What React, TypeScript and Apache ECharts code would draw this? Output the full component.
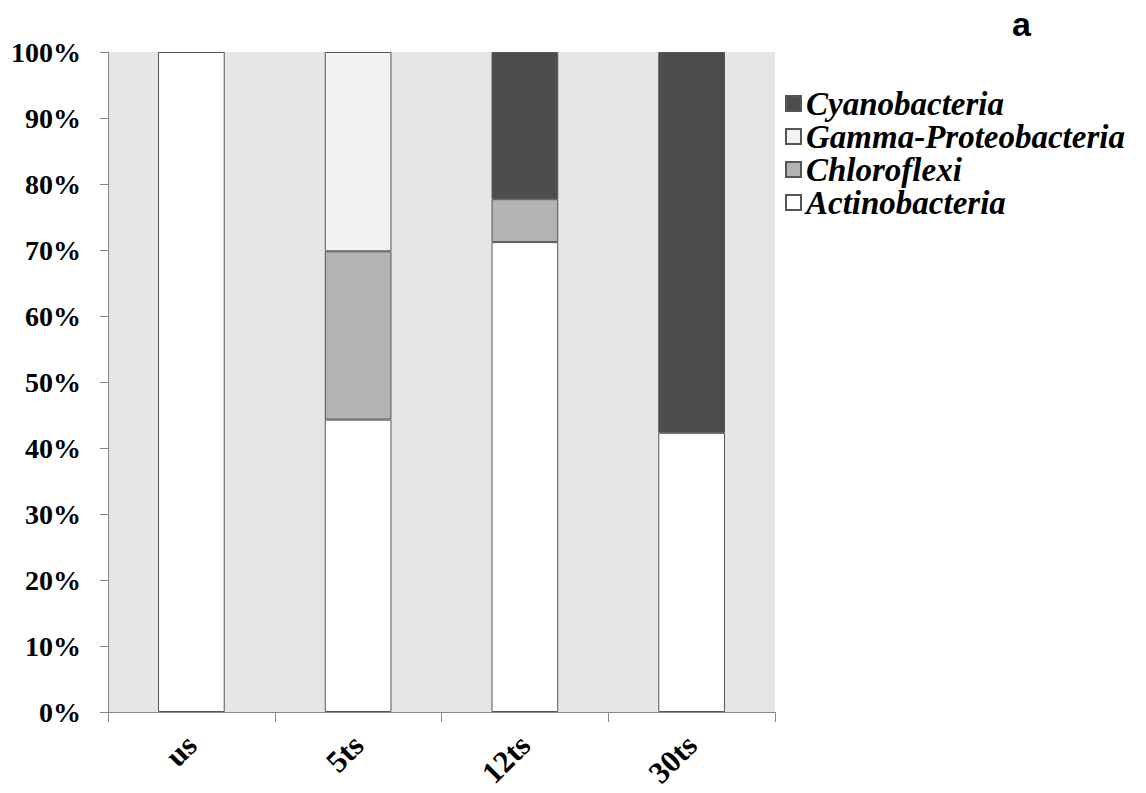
import React, { useEffect, useRef } from "react";
import * as echarts from "echarts";

const categories = ["us", "5ts", "12ts", "30ts"];
const actinobacteria = [100, 44.3, 71.2, 42.3];
const chloroflexi = [null, 25.5, 6.5, null];
const gammaProteobacteria = [null, 30.2, null, null];
const cyanobacteria = [null, null, 22.3, 57.7];
const legendOrder = ["Cyanobacteria", "Gamma-Proteobacteria", "Chloroflexi", "Actinobacteria"];

const serif = "Liberation Serif";

export default function App() {
  const ref = useRef<HTMLDivElement>(null);
  useEffect(() => {
    const chart = echarts.init(ref.current!, null, { renderer: "svg" });
    const mk = (name: string, data: (number | null)[], color: string) => ({
      name,
      type: "bar",
      stack: "total",
      data,
      barWidth: "40%",
      itemStyle: { color, borderColor: "#555", borderWidth: 1 },
    });
    chart.setOption({
      animation: false,
      backgroundColor: "#ffffff",
      title: {
        text: "a",
        left: 1007,
        top: 2,
        textStyle: { fontFamily: "Liberation Sans", fontWeight: "bold", fontSize: 34, color: "#000" },
      },
      grid: {
        left: 108,
        right: 371,
        top: 52,
        bottom: 81,
        show: true,
        backgroundColor: "#e6e6e6",
        borderWidth: 0,
      },
      legend: {
        data: legendOrder,
        orient: "vertical",
        left: 780,
        top: 82,
        itemWidth: 15,
        itemHeight: 15,
        itemGap: 0,
        icon: "rect",
        textStyle: {
          fontFamily: serif,
          fontStyle: "italic",
          fontWeight: "bold",
          fontSize: 33,
          color: "#000",
          lineHeight: 33,
          padding: [0, 0, 0, 0],
        },
      },
      xAxis: {
        type: "category",
        data: categories,
        axisLine: { show: true, lineStyle: { color: "#888", width: 1 } },
        axisTick: { show: true, length: 10, lineStyle: { color: "#888" } },
        axisLabel: {
          rotate: 45,
          margin: 28,
          fontFamily: serif,
          fontWeight: "bold",
          fontSize: 31,
          color: "#000",
        },
      },
      yAxis: {
        type: "value",
        min: 0,
        max: 100,
        interval: 10,
        splitLine: { show: false },
        axisLine: { show: true, lineStyle: { color: "#888", width: 1 } },
        axisTick: { show: true, length: 8, lineStyle: { color: "#888" } },
        axisLabel: {
          formatter: "{value}%",
          margin: 27,
          fontFamily: serif,
          fontWeight: "bold",
          fontSize: 28,
          color: "#000",
        },
      },
      series: [
        mk("Actinobacteria", actinobacteria, "#ffffff"),
        mk("Chloroflexi", chloroflexi, "#b3b3b3"),
        mk("Gamma-Proteobacteria", gammaProteobacteria, "#f2f2f2"),
        mk("Cyanobacteria", cyanobacteria, "#4d4d4d"),
      ],
    });
    return () => chart.dispose();
  }, []);
  return (
    <div
      ref={ref}
      style={{ position: "fixed", left: 0, top: 0, width: 1146, height: 793 }}
    />
  );
}
